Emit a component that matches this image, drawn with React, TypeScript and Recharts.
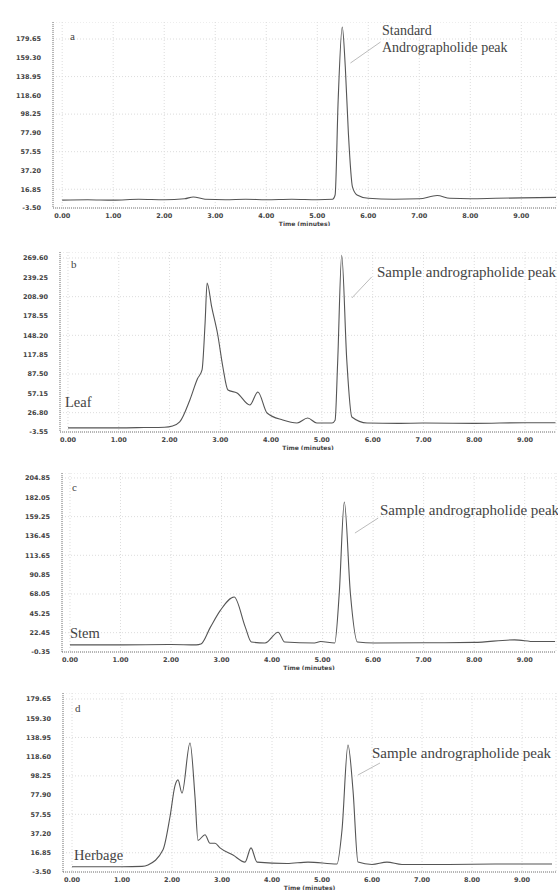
import React from "react";
import {
  CartesianGrid,
  Label,
  Line,
  LineChart,
  ReferenceLine,
  XAxis,
  YAxis,
} from "recharts";

// retention time ticks (minutes)
const xTicks = [0, 1, 2, 3, 4, 5, 6, 7, 8, 9];

// a: standard
const timesA = [0, 0.5, 1, 1.5, 2, 2.4, 2.57, 2.8, 3.2, 3.6, 4, 4.5, 5, 5.3, 5.35, 5.41, 5.49, 5.55, 5.61, 5.69, 5.78, 6, 6.5, 7, 7.35, 7.6, 8, 8.5, 9, 9.68];
const valuesA = [5, 5.5, 5, 6, 5.5, 6.5, 8.5, 6, 5.5, 6, 5.5, 6, 5.5, 6, 10.6, 113.5, 192.6, 149, 77.8, 19.3, 10.6, 7, 6, 6.5, 10, 7, 6.5, 7, 7.5, 8];
const ticksA = [-3.5, 16.85, 37.2, 57.55, 77.9, 98.25, 118.6, 138.95, 159.3, 179.65];

// b: leaf
const timesB = [0, 0.5, 1, 1.5, 1.9, 2.06, 2.2, 2.4, 2.55, 2.64, 2.7, 2.74, 2.83, 2.95, 3.05, 3.15, 3.33, 3.58, 3.74, 3.92, 4.23, 4.51, 4.72, 4.9, 5.2, 5.26, 5.31, 5.39, 5.49, 5.59, 5.89, 6.5, 7, 8, 9, 9.6];
const valuesB = [3, 3, 3, 3.5, 4, 6, 12.2, 46.7, 80, 93.8, 167.6, 230.4, 192.7, 148.7, 98.5, 62.4, 57.7, 38.8, 59.3, 26.3, 15.3, 10.6, 18.4, 10.6, 10.6, 15, 104.8, 274, 109.5, 20, 10.6, 10, 10.5, 10, 11, 11];
const ticksB = [-3.55, 26.8, 57.15, 87.5, 117.85, 148.2, 178.55, 208.9, 239.25, 269.6];

// c: stem
const timesC = [0, 1, 2, 2.5, 2.59, 2.78, 2.98, 3.25, 3.47, 3.59, 3.86, 4.12, 4.25, 4.84, 4.96, 5.24, 5.33, 5.43, 5.55, 5.69, 6.02, 7, 8, 8.8, 9.2, 9.6];
const valuesC = [8, 8, 8.5, 8, 9, 29, 49, 64.5, 29, 11.4, 10.3, 23, 11.4, 10.3, 12, 10.3, 69, 176.5, 69, 11.4, 10.3, 10.5, 11, 14, 12, 12];
const ticksC = [-0.35, 22.45, 45.25, 68.05, 90.85, 113.65, 136.45, 159.25, 182.05, 204.85];

// d: herbage
const timesD = [0, 1, 1.4, 1.52, 1.82, 1.96, 2.06, 2.12, 2.2, 2.36, 2.46, 2.52, 2.66, 2.76, 2.86, 2.96, 3.22, 3.46, 3.58, 3.7, 4.3, 4.72, 5.3, 5.4, 5.52, 5.62, 5.72, 6, 6.3, 6.6, 7.5, 8.5, 9.6];
const valuesD = [2, 2, 2.5, 4, 20, 55, 88, 94, 80, 133, 76, 30, 36, 27, 27, 22, 14.5, 7, 22, 7, 5.5, 7, 5, 41, 131, 83, 7, 4.5, 7, 4.5, 4.5, 5, 5];
const ticksD = [-3.5, 16.85, 37.2, 57.55, 77.9, 98.25, 118.6, 138.95, 159.3, 179.65];

const toRows = (t: number[], v: number[]) => t.map((x, i) => ({ t: x, v: v[i] }));

const tickFont = { fontSize: 6.5, fontWeight: 700, fill: "#444", fontFamily: "DejaVu Sans" };
const serif = "'Liberation Serif', 'DejaVu Serif', serif";

type PanelProps = {
  top: number;
  axisX: number;
  plotH: number;
  xDomain: [number, number];
  yTicks: number[];
  yMax: number;
  data: { t: number; v: number }[];
  leader: { x: number; y: number }[];
};

function Panel({ top, axisX, plotH, xDomain, yTicks, yMax, data, leader }: PanelProps) {
  return (
    <div style={{ position: "absolute", left: 0, top }}>
      <LineChart width={558} height={plotH + 18} data={data} margin={{ top: 0, right: 2, bottom: 0, left: 0 }}>
        <CartesianGrid stroke="#dcdcdc" strokeDasharray="1 2" />
        <XAxis
          type="number"
          dataKey="t"
          domain={xDomain}
          ticks={xTicks}
          allowDataOverflow
          tickFormatter={(v: number) => v.toFixed(2)}
          tick={tickFont}
          tickSize={0}
          tickMargin={5}
          axisLine={{ stroke: "#777", strokeDasharray: "1 1" }}
          height={18}
        >
          <Label value="Time (minutes)" position="insideBottom" offset={0} style={{ fontSize: 6, fontWeight: 700, fill: "#444", fontFamily: "DejaVu Sans" }} />
        </XAxis>
        <YAxis
          type="number"
          domain={[yTicks[0], yMax]}
          ticks={yTicks}
          allowDataOverflow
          tickFormatter={(v: number) => v.toFixed(2)}
          tick={tickFont}
          tickSize={0}
          tickMargin={12}
          axisLine={{ stroke: "#777", strokeDasharray: "1 1" }}
          width={axisX}
        />
        <ReferenceLine segment={leader} stroke="#aaa" strokeWidth={0.8} />
        <Line type="monotone" dataKey="v" stroke="#555" strokeWidth={1.1} dot={false} isAnimationActive={false} />
      </LineChart>
    </div>
  );
}

const txt = (left: number, top: number, size: number, s: string) => (
  <div style={{ position: "absolute", left, top, fontFamily: serif, fontSize: size, color: "#444", whiteSpace: "nowrap", lineHeight: 1 }}>
    {s}
  </div>
);

export default function App() {
  return (
    <div style={{ position: "relative", width: 558, height: 893, overflow: "hidden", background: "#fff" }}>
      <style>{"body{margin:0}"}</style>
      <Panel top={22} axisX={53} plotH={186} xDomain={[-0.18, 9.68]} yTicks={ticksA} yMax={198.1} data={toRows(timesA, valuesA)} leader={[{ x: 5.65, y: 153.6 }, { x: 6.24, y: 176.4 }]} />
      <Panel top={252} axisX={60} plotH={180} xDomain={[-0.157, 9.61]} yTicks={ticksB} yMax={279} data={toRows(timesB, valuesB)} leader={[{ x: 5.59, y: 206.8 }, { x: 5.98, y: 239.8 }]} />
      <Panel top={473} axisX={62} plotH={179} xDomain={[-0.158, 9.62]} yTicks={ticksC} yMax={210.7} data={toRows(timesC, valuesC)} leader={[{ x: 5.64, y: 139.9 }, { x: 6.1, y: 157.6 }]} />
      <Panel top={693} axisX={63} plotH={179} xDomain={[-0.18, 9.68]} yTicks={ticksD} yMax={186} data={toRows(timesD, valuesD)} leader={[{ x: 5.72, y: 99.2 }, { x: 6.16, y: 111.9 }]} />

      {txt(70, 31, 11, "a")}
      {txt(382, 24, 14, "Standard")}
      {txt(382, 41, 14, "Andrographolide peak")}

      {txt(71, 259, 11, "b")}
      {txt(65, 395, 14.5, "Leaf")}
      {txt(377, 265, 15, "Sample andrographolide peak")}

      {txt(72, 482, 11, "c")}
      {txt(70, 626, 14.5, "Stem")}
      {txt(380, 503, 15, "Sample andrographolide peak")}

      {txt(75, 703, 11, "d")}
      {txt(74, 848, 14.5, "Herbage")}
      {txt(372, 746, 15, "Sample andrographolide peak")}
    </div>
  );
}
